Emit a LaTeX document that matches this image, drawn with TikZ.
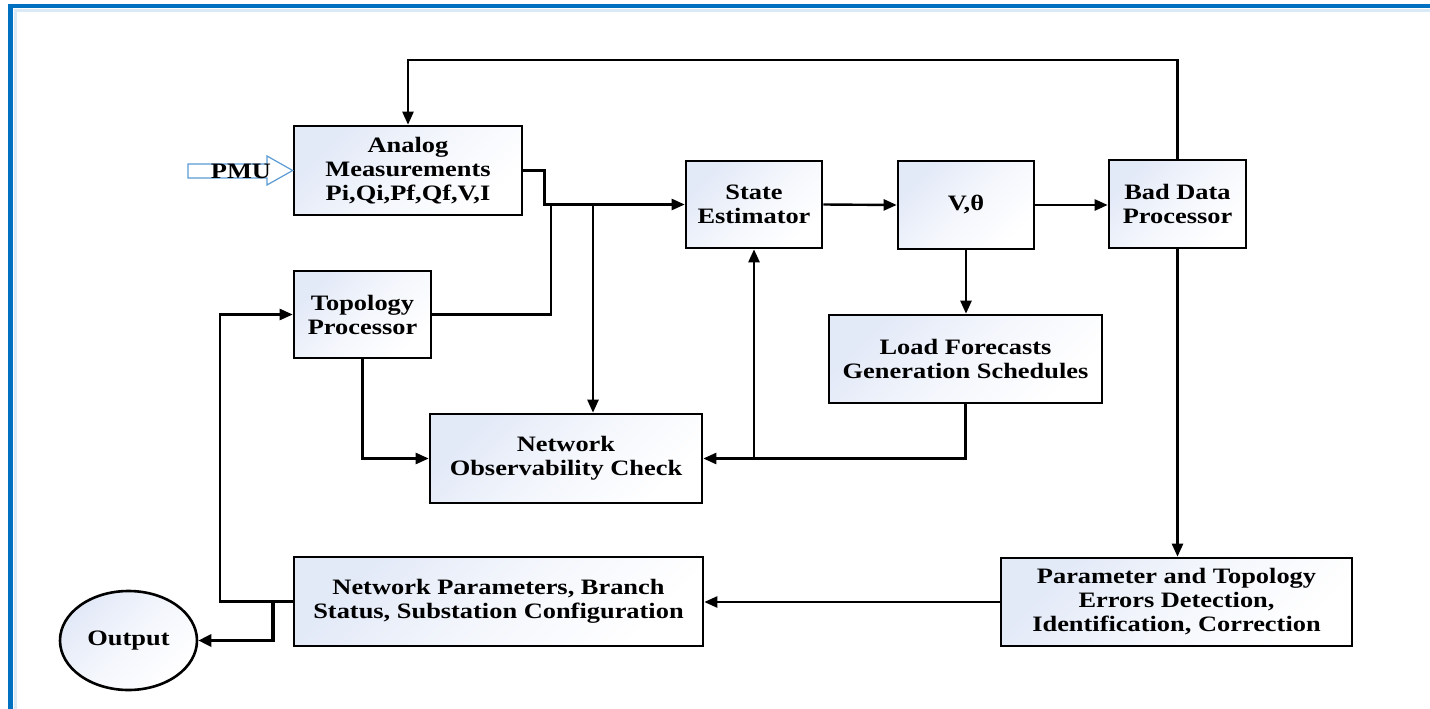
\documentclass[tikz,border=0pt]{standalone}
\usepackage{fontspec}
\setmainfont{Liberation Serif}[FakeStretch=1.2]
\usetikzlibrary{arrows.meta,shapes.geometric}
\definecolor{boxblue}{RGB}{226,233,247}
\definecolor{framblue}{RGB}{0,112,192}
\definecolor{pmublue}{RGB}{91,155,213}
\begin{document}
\begin{tikzpicture}[x=1pt,y=-1pt,
  box/.style={draw=black,line width=2.6pt,rectangle,inner sep=0pt,
    top color=boxblue,bottom color=white,middle color=white!60!boxblue,shading angle=45,
    align=center,font=\fontsize{22}{24}\selectfont\bfseries},
  conn/.style={draw=black,line width=2.4pt},
  arr/.style={conn,-{Triangle[length=13pt,width=11pt]}},
  arrthick/.style={draw=black,line width=3.6pt,-{Triangle[length=13pt,width=12pt]}}]
\useasboundingbox (0,0) rectangle (1430,709);
% frame
\draw[framblue!15,line width=3pt] (15,709) -- (15,10.5) -- (1430,10.5);
\draw[framblue,line width=4.5pt] (10.5,709) -- (10.5,6) -- (1430,6);

% boxes
\node[box,minimum width=228,minimum height=89] (A) at (408,170.5) {Analog\\Measurements\\Pi,Qi,Pf,Qf,V,I};
\node[box,minimum width=136,minimum height=87] (SE) at (754,204.5) {State\\Estimator};
\node[box,minimum width=136,minimum height=88] (V) at (966,205) {V,θ};
\node[box,minimum width=137,minimum height=88] (BD) at (1177.5,204) {Bad Data\\Processor};
\node[box,minimum width=137,minimum height=87] (TP) at (362.5,314.5) {Topology\\Processor};
\node[box,minimum width=272,minimum height=89] (NO) at (566,458.5) {Network\\Observability Check};
\node[box,minimum width=273,minimum height=88] (LF) at (965.5,359) {Load Forecasts\\Generation Schedules};
\node[box,minimum width=409,minimum height=89] (NP) at (498.5,601.5) {Network Parameters, Branch\\Status, Substation Configuration};
\node[box,minimum width=351,minimum height=88] (PT) at (1176.5,602) {Parameter and Topology\\Errors Detection,\\Identification, Correction};
\node[box,ellipse,minimum width=137,minimum height=99] (Out) at (128.5,640.5) {Output};

% PMU block arrow
\draw[pmublue,line width=1.2pt,fill=white] (188,164) -- (267,164) -- (267,156) -- (A.west) -- (267,185) -- (267,178) -- (188,178) -- cycle;
\node[font=\fontsize{22}{24}\selectfont\bfseries,inner sep=0pt] (pmu) at (241,171) {PMU};

% coordinates
\coordinate (top) at (0,60);
\coordinate (j1) at (551,204.5);
\coordinate (j2) at (593,204.5);
\coordinate (j4) at (273,601.5);
\coordinate (fb) at (220,601.5);

% connectors
\draw[arr] (BD.north) -- (BD.north |- top) -| (A.north);
\draw[arr] (A.east) -- ++(21,0) |- (SE.west);
\draw[conn] (TP.east) -| (j1);
\draw[arr] (j2) -- (j2 |- NO.north);
\draw[arr] (SE.east) -- (V.west);
\draw[arr] (V.east) -- (V.east -| BD.west);
\draw[arr] (V.south) -- (V.south |- LF.north);
\draw[arr] (LF.south) |- (NO.east);
\draw[arr] (SE.south |- NO.east) -- (SE.south);
\draw[arr] (TP.south) |- (NO.west);
\draw[arr] (NP.west) -- (fb) |- (TP.west);
\draw[arrthick] (j4) |- (Out.east);
\draw[arr] (BD.south) -- (BD.south |- PT.north);
\draw[arr] (PT.west) -- (PT.west -| NP.east);
\end{tikzpicture}
\end{document}
